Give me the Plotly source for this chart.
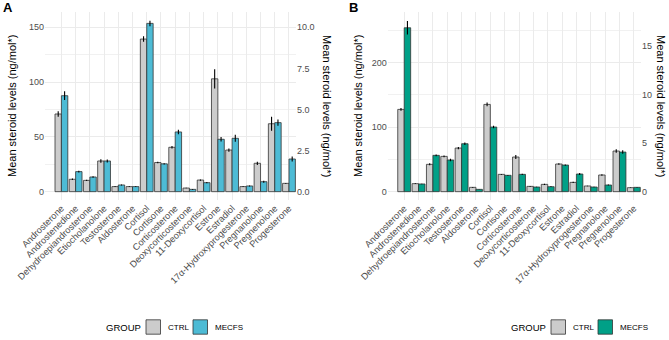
import plotly.graph_objects as go

categories = ["Androsterone", "Androstenedione", "Dehydroepiandrosterone", "Etiocholanolone",
              "Testosterone", "Aldosterone", "Cortisol", "Cortisone", "Corticosterone",
              "Deoxycorticosterone", "11-Deoxycortisol", "Estrone", "Estradiol",
              "17α-Hydroxyprogesterone", "Pregnanolone", "Pregnenolone", "Progesterone"]

# Panel A (values in left-axis units; right axis = left / 15)
ctrl_a = [70.9, 11.3, 10.3, 28.0, 4.6, 4.6, 139.3, 26.6, 40.5, 3.3, 10.6, 103.0, 38.0, 4.6, 25.9, 62.0, 7.6]
ctrl_a_err = [2.5, 0.6, 0.5, 1.5, 0.4, 0.4, 2.5, 0.6, 1.2, 0.3, 0.6, 8.8, 1.5, 0.4, 1.5, 6.4, 0.4]
mecfs_a = [87.6, 18.3, 13.4, 28.0, 6.1, 4.6, 153.6, 25.4, 54.5, 2.1, 8.2, 47.8, 48.7, 5.2, 9.1, 63.0, 29.8]
mecfs_a_err = [4.0, 0.8, 0.6, 1.4, 0.4, 0.3, 2.5, 0.6, 2.0, 0.3, 0.5, 2.0, 3.2, 0.4, 0.9, 2.8, 2.3]

# Panel B
ctrl_b = [127.3, 12.4, 42.3, 54.6, 67.5, 6.7, 135.0, 26.8, 53.6, 8.2, 11.3, 42.8, 14.4, 8.8, 25.8, 62.9, 6.2]
ctrl_b_err = [2.0, 0.6, 1.5, 1.5, 1.8, 0.5, 2.8, 0.7, 3.0, 0.4, 0.8, 1.0, 0.8, 0.4, 1.3, 2.8, 0.4]
mecfs_b = [253.6, 11.9, 56.2, 49.0, 74.2, 3.6, 100.0, 25.3, 26.8, 7.2, 7.7, 41.2, 27.3, 7.2, 10.3, 61.3, 6.7]
mecfs_b_err = [10.5, 0.5, 1.5, 1.8, 2.0, 0.3, 2.0, 0.6, 1.0, 0.4, 0.5, 1.0, 1.6, 0.4, 0.8, 2.8, 0.4]

group_names = ["CTRL", "MECFS"]
right_factor = 15
right_ticks_a = [0, 2.5, 5.0, 7.5, 10.0]
right_ticks_b = [0, 5, 10, 15]

W, H = 669, 340
GREY = "#CCCCCC"
BLUE = "#4DBBD5"
GREEN = "#00A087"
EDGE = "#333333"
FONT = "Liberation Sans, Arial, sans-serif"
TICKC = "#4D4D4D"
GRID = "#EBEBEB"


def px(x):
    return x / W


def py(y):
    return 1 - y / H


fig = go.Figure()


def add_bars(ctrl, ctrl_err, mecfs, mecfs_err, col, xa, ya, ya_right):
    for name, vals, err, c in [(group_names[0], ctrl, ctrl_err, GREY), (group_names[1], mecfs, mecfs_err, col)]:
        fig.add_trace(go.Bar(
            x=categories, y=vals, name=name, showlegend=False,
            marker=dict(color=c, line=dict(color=EDGE, width=0.8)),
            error_y=dict(type="data", array=err, thickness=1.1, width=0, color="black"),
            xaxis=xa, yaxis=ya,
        ))
    # empty helper trace so the secondary (right) axis is rendered
    fig.add_trace(go.Scatter(x=[categories[0]], y=[None], mode="markers", showlegend=False,
                             hoverinfo="skip", xaxis=xa, yaxis=ya_right))


add_bars(ctrl_a, ctrl_a_err, mecfs_a, mecfs_a_err, BLUE, "x", "y", "y2")
add_bars(ctrl_b, ctrl_b_err, mecfs_b, mecfs_b_err, GREEN, "x2", "y3", "y4")

ydom = [py(200.2), py(12.0)]
rng_a = [-7.8, 164]
rng_b = [-13.2, 278]

common_x = dict(tickangle=-45, tickfont=dict(size=9.2, color=TICKC, family=FONT),
                showgrid=True, gridcolor=GRID, gridwidth=1, zeroline=False, showline=False,
                ticks="", automargin=False)
common_y = dict(tickfont=dict(size=9, color=TICKC, family=FONT), showgrid=True, gridcolor=GRID,
                gridwidth=1, zeroline=False, showline=False, ticks="", automargin=False)

fig.update_layout(
    width=W, height=H, margin=dict(l=0, r=0, t=0, b=0),
    paper_bgcolor="white", plot_bgcolor="white",
    barmode="group", bargap=0.1, bargroupgap=0,
    font=dict(family=FONT),
    showlegend=False,
    xaxis=dict(domain=[px(45.1), px(296.1)], anchor="y", **common_x),
    yaxis=dict(domain=ydom, anchor="x", range=rng_a, dtick=50,
               minor=dict(dtick=25, showgrid=True, gridcolor="#F1F1F1", gridwidth=0.6), **common_y),
    yaxis2=dict(overlaying="y", side="right", anchor="x", range=[r / right_factor for r in rng_a],
                tickvals=right_ticks_a, ticktext=["%.1f" % v for v in right_ticks_a],
                tickfont=dict(size=9, color=TICKC, family=FONT), showgrid=False, zeroline=False,
                showline=False, ticks="", automargin=False),
    xaxis2=dict(domain=[px(387.8), px(641.0)], anchor="y3", **common_x),
    yaxis3=dict(domain=ydom, anchor="x2", range=rng_b, dtick=100,
                minor=dict(dtick=50, showgrid=True, gridcolor="#F1F1F1", gridwidth=0.6), **common_y),
    yaxis4=dict(overlaying="y3", side="right", anchor="x2", range=[r / right_factor for r in rng_b],
                tickvals=right_ticks_b, ticktext=[str(v) for v in right_ticks_b],
                tickfont=dict(size=9, color=TICKC, family=FONT), showgrid=False, zeroline=False,
                showline=False, ticks="", automargin=False),
)

title_text = "Mean steroid levels (ng/mol*)"
ann = []
for xc, ang in [(12, -90), (327, 90), (358, -90), (661, 90)]:
    ann.append(dict(x=px(xc), y=py(106), xref="paper", yref="paper", text=title_text,
                    textangle=ang, showarrow=False, xanchor="center", yanchor="middle",
                    font=dict(size=11, color="black", family=FONT)))
ann.append(dict(x=px(1), y=py(7), xref="paper", yref="paper", text="<b>A</b>", showarrow=False,
                xanchor="left", yanchor="middle", font=dict(size=13, color="black", family=FONT)))
ann.append(dict(x=px(347), y=py(7), xref="paper", yref="paper", text="<b>B</b>", showarrow=False,
                xanchor="left", yanchor="middle", font=dict(size=13, color="black", family=FONT)))

shapes = []
ly = 327
for x0, col in [(104, BLUE), (509, GREEN)]:
    ann.append(dict(x=px(x0), y=py(ly), xref="paper", yref="paper", text="GROUP", showarrow=False,
                    xanchor="left", yanchor="middle", font=dict(size=9.5, color="black", family=FONT)))
    for i, (dx, c) in enumerate([(42, GREY), (89, col)]):
        bx = x0 + dx
        shapes.append(dict(type="rect", xref="paper", yref="paper", x0=px(bx), x1=px(bx + 14.5),
                           y0=py(ly + 7.2), y1=py(ly - 7.2), fillcolor=c,
                           line=dict(color=EDGE, width=0.8)))
        ann.append(dict(x=px(bx + 19.5), y=py(ly), xref="paper", yref="paper", text=group_names[i],
                        showarrow=False, xanchor="left", yanchor="middle",
                        font=dict(size=8, color="black", family=FONT)))

fig.update_layout(annotations=ann, shapes=shapes)
fig.write_html("out.html", config={"displayModeBar": False},
               post_script="document.body.style.margin='0';document.body.style.overflow='hidden';")
